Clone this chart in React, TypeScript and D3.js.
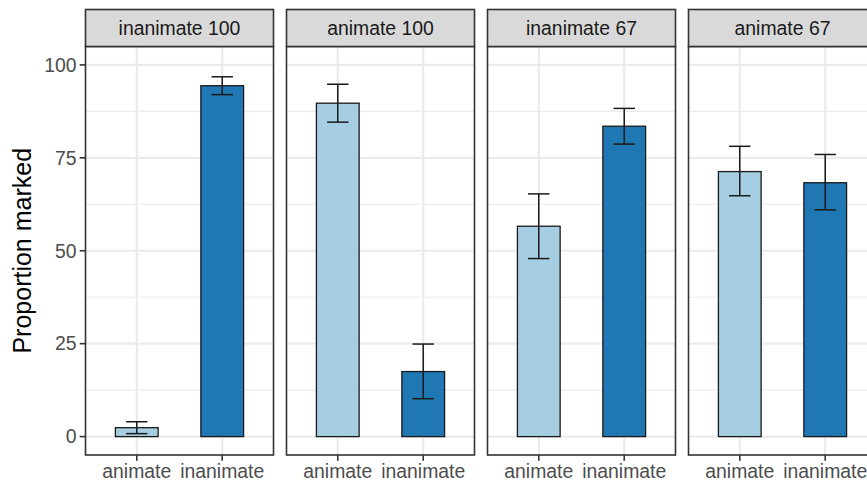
import * as d3 from 'd3';
import React, {useEffect, useRef} from 'react';

const panels = ["inanimate 100", "animate 100", "inanimate 67", "animate 67"];
const categories = ["animate", "inanimate"];

// means and error bar limits per panel
const animateMean = [2.4, 89.7, 56.6, 71.3];
const animateLow = [0.8, 84.6, 47.9, 64.8];
const animateHigh = [4.0, 94.8, 65.3, 78.1];
const inanimateMean = [94.4, 17.5, 83.5, 68.3];
const inanimateLow = [92.0, 10.2, 78.7, 61.0];
const inanimateHigh = [96.8, 24.9, 88.3, 75.9];

const yTicks = [0, 25, 50, 75, 100];
const yMinor = [12.5, 37.5, 62.5, 87.5];

const colors = {animate: "#A6CEE3", inanimate: "#1F78B4"};

export default function App(){
    const ref = useRef(null);

    useEffect(() => {
        const svg = d3.select(ref.current);
        svg.selectAll("*").remove();

        const font = "'Liberation Sans', Arial, sans-serif";
        const textSize = "19.4px";
        const panelW = 188,
            gap = 13,
            left0 = 85.5,
            stripTop = 9.5,
            panelTop = 46.5,
            panelBottom = 455;

        const yScale = d3.scaleLinear().domain([-4.95, 104.95]).range([panelBottom, panelTop]);
        const xScale = d3.scalePoint().domain(categories).range([0, panelW]).padding(0.6);
        const step = xScale.step();

        const rows = panels.map((p, i) => ({
            panel: p,
            values: [
                {cat: "animate", mean: animateMean[i], lo: animateLow[i], hi: animateHigh[i]},
                {cat: "inanimate", mean: inanimateMean[i], lo: inanimateLow[i], hi: inanimateHigh[i]}
            ]
        }));

        const g = svg.selectAll(".panel")
            .data(rows)
          .enter().append("g")
            .attr("class", "panel")
            .attr("transform", (d, i) => `translate(${left0 + i * (panelW + gap)},0)`);

        // background
        g.append("rect")
            .attr("x", 0).attr("y", panelTop)
            .attr("width", panelW).attr("height", panelBottom - panelTop)
            .attr("fill", "white");

        // minor grid
        g.selectAll(".minor")
            .data(yMinor)
          .enter().append("line")
            .attr("x1", 0).attr("x2", panelW)
            .attr("y1", d => yScale(d)).attr("y2", d => yScale(d))
            .attr("stroke", "#EBEBEB").attr("stroke-width", 1.1);

        // major grid
        g.selectAll(".major")
            .data(yTicks)
          .enter().append("line")
            .attr("x1", 0).attr("x2", panelW)
            .attr("y1", d => yScale(d)).attr("y2", d => yScale(d))
            .attr("stroke", "#EBEBEB").attr("stroke-width", 2.2);

        g.selectAll(".vgrid")
            .data(categories)
          .enter().append("line")
            .attr("x1", d => xScale(d)).attr("x2", d => xScale(d))
            .attr("y1", panelTop).attr("y2", panelBottom)
            .attr("stroke", "#EBEBEB").attr("stroke-width", 2.2);

        // bars
        g.selectAll(".bar")
            .data(d => d.values)
          .enter().append("rect")
            .attr("class", "bar")
            .attr("x", d => xScale(d.cat) - step * 0.25)
            .attr("width", step * 0.5)
            .attr("y", d => yScale(d.mean))
            .attr("height", d => yScale(0) - yScale(d.mean))
            .attr("fill", d => colors[d.cat])
            .attr("stroke", "#1a1a1a")
            .attr("stroke-width", 1.3);

        // error bars
        const eb = g.selectAll(".err")
            .data(d => d.values)
          .enter().append("g")
            .attr("stroke", "#1a1a1a")
            .attr("stroke-width", 1.5);
        eb.append("line")
            .attr("x1", d => xScale(d.cat)).attr("x2", d => xScale(d.cat))
            .attr("y1", d => yScale(d.lo)).attr("y2", d => yScale(d.hi));
        eb.append("line")
            .attr("x1", d => xScale(d.cat) - step * 0.125).attr("x2", d => xScale(d.cat) + step * 0.125)
            .attr("y1", d => yScale(d.lo)).attr("y2", d => yScale(d.lo));
        eb.append("line")
            .attr("x1", d => xScale(d.cat) - step * 0.125).attr("x2", d => xScale(d.cat) + step * 0.125)
            .attr("y1", d => yScale(d.hi)).attr("y2", d => yScale(d.hi));

        // panel border
        g.append("rect")
            .attr("x", 0).attr("y", panelTop)
            .attr("width", panelW).attr("height", panelBottom - panelTop)
            .attr("fill", "none")
            .attr("stroke", "#333333").attr("stroke-width", 1.6);

        // strip
        g.append("rect")
            .attr("x", 0).attr("y", stripTop)
            .attr("width", panelW).attr("height", panelTop - stripTop)
            .attr("fill", "#D9D9D9")
            .attr("stroke", "#333333").attr("stroke-width", 1.6);
        g.append("text")
            .text(d => d.panel)
            .attr("x", panelW / 2)
            .attr("y", (stripTop + panelTop) / 2)
            .attr("dy", "0.35em")
            .attr("text-anchor", "middle")
            .style("font-family", font)
            .style("font-size", textSize)
            .attr("fill", "#1A1A1A");

        // x axis ticks + labels
        g.selectAll(".xtick")
            .data(categories)
          .enter().append("line")
            .attr("x1", d => xScale(d)).attr("x2", d => xScale(d))
            .attr("y1", panelBottom).attr("y2", panelBottom + 5.8)
            .attr("stroke", "#333333").attr("stroke-width", 1.6);
        g.selectAll(".xlab")
            .data(categories)
          .enter().append("text")
            .text(d => d)
            .attr("x", d => xScale(d))
            .attr("y", panelBottom + 8)
            .attr("dy", "0.75em")
            .attr("text-anchor", "middle")
            .style("font-family", font)
            .style("font-size", textSize)
            .attr("fill", "#4D4D4D");

        // y axis
        const yAxis = svg.append("g");
        yAxis.selectAll("line")
            .data(yTicks)
          .enter().append("line")
            .attr("x1", left0 - 5.8).attr("x2", left0)
            .attr("y1", d => yScale(d)).attr("y2", d => yScale(d))
            .attr("stroke", "#333333").attr("stroke-width", 1.6);
        yAxis.selectAll("text")
            .data(yTicks)
          .enter().append("text")
            .text(d => d)
            .attr("x", left0 - 9)
            .attr("y", d => yScale(d))
            .attr("dy", "0.35em")
            .attr("text-anchor", "end")
            .style("font-family", font)
            .style("font-size", textSize)
            .attr("fill", "#4D4D4D");

        svg.append("text")
            .text("Proportion marked")
            .attr("transform", `translate(31,${(panelTop + panelBottom) / 2}) rotate(-90)`)
            .attr("text-anchor", "middle")
            .style("font-family", font)
            .style("font-size", "25px")
            .attr("fill", "black");
    }, []);

    return (
        <svg ref={ref} width={867} height={482}
            style={{position: "absolute", left: 0, top: 0, background: "white"}} />
    );
}
